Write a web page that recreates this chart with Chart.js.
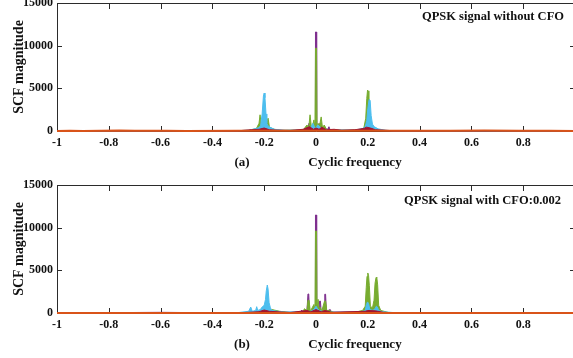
<!DOCTYPE html>
<html>
<head>
<meta charset="utf-8">
<script src="https://cdn.jsdelivr.net/npm/chart.js@4.4.0/dist/chart.umd.min.js"></script>
<style>
  html, body { margin: 0; padding: 0; background: #fff; overflow: hidden; width: 573px; height: 358px; }
  canvas { position: absolute; left: 0; }
  #chartA { top: 0; }
  #chartB { top: 179px; }
</style>
</head>
<body>
<canvas id="chartA" width="580" height="179"></canvas>
<canvas id="chartB" width="580" height="179"></canvas>
<script>
// axis ticks
const xTickValues = [-1, -0.8, -0.6, -0.4, -0.2, 0, 0.2, 0.4, 0.6, 0.8, 1];
const xTickLabels = ["-1", "-0.8", "-0.6", "-0.4", "-0.2", "0", "0.2", "0.4", "0.6", "0.8", ""];
const yTickValues = [0, 5000, 10000, 15000];
const yTickLabels = ["0", "5000", "10000", "15000"];

// --- panel (a): QPSK without CFO ---
const purpleAx = [-1, -0.3, -0.21, -0.2, -0.19, -0.06, -0.032, -0.027, -0.022, -0.008, -0.0025, -0.002, 0.002, 0.0025, 0.008, 0.012, 0.015, 0.018, 0.03, 0.045, 0.05, 0.055, 0.18, 0.195, 0.2, 0.205, 0.3, 1];
const purpleAy = [0, 0, 50, 300, 50, 80, 100, 900, 100, 300, 600, 11600, 11600, 600, 200, 150, 900, 150, 300, 200, 500, 100, 80, 200, 450, 100, 0, 0];

const greenAx = [-1, -0.26, -0.23, -0.22, -0.216, -0.212, -0.205, -0.2, -0.195, -0.188, -0.185, -0.18, -0.17, -0.15, -0.05, -0.035, -0.028, -0.023, -0.018, -0.012, -0.008, -0.004, -0.002, 0.002, 0.004, 0.008, 0.013, 0.02, 0.025, 0.032, 0.04, 0.06, 0.17, 0.185, 0.192, 0.196, 0.199, 0.201, 0.204, 0.208, 0.214, 0.225, 0.25, 1];
const greenAy = [0, 50, 300, 900, 1900, 900, 600, 1100, 700, 1200, 1500, 500, 300, 80, 100, 700, 400, 1900, 500, 800, 1300, 400, 9700, 9700, 400, 900, 500, 1650, 400, 700, 200, 80, 100, 400, 1500, 3800, 4800, 4700, 3000, 1200, 500, 200, 50, 0];

const cyanAx = [-1, -0.3, -0.26, -0.23, -0.222, -0.214, -0.208, -0.203, -0.2, -0.197, -0.193, -0.19, -0.185, -0.175, -0.16, -0.12, -0.04, -0.02, -0.012, -0.006, 0, 0.006, 0.012, 0.02, 0.04, 0.15, 0.18, 0.19, 0.196, 0.2, 0.205, 0.209, 0.213, 0.218, 0.225, 0.24, 0.27, 0.3, 1];
const cyanAy = [0, 40, 100, 300, 400, 600, 2000, 4100, 4450, 3900, 2000, 900, 600, 400, 200, 80, 150, 400, 900, 500, 300, 700, 600, 300, 150, 100, 300, 500, 1200, 2600, 3700, 3600, 1800, 800, 500, 250, 80, 30, 0];

const redAx = [-1, -0.3, -0.25, -0.22, -0.2, -0.18, -0.15, -0.1, -0.05, -0.025, -0.01, 0, 0.012, 0.022, 0.04, 0.07, 0.1, 0.15, 0.185, 0.195, 0.21, 0.23, 0.26, 0.3, 1];
const redAy = [0, 30, 150, 200, 350, 150, 100, 60, 200, 500, 200, 350, 200, 450, 150, 200, 80, 150, 300, 450, 350, 150, 100, 30, 0];

const orangeAx = [-1, -0.95, -0.9, -0.76, -0.7, -0.58, -0.5, -0.3, 0.3, 0.4, 0.52, 0.65, 0.78, 0.9, 1];
const orangeAy = [0, 40, 0, 50, 20, 40, 0, 30, 30, 40, 30, 50, 20, 40, 0];

// --- panel (b): QPSK with CFO 0.002 ---
const purpleBx = [-1, -0.6, -0.3, -0.21, -0.2, -0.19, -0.06, -0.055, -0.05, -0.035, -0.031, -0.028, -0.025, -0.008, -0.0025, -0.002, 0.002, 0.0025, 0.01, 0.014, 0.017, 0.02, 0.031, 0.034, 0.037, 0.04, 0.055, 0.06, 0.19, 0.2, 0.21, 0.235, 0.25, 0.3, 1];
const purpleBy = [0, 80, 0, 100, 300, 100, 100, 350, 100, 200, 2230, 2230, 200, 200, 600, 11480, 11480, 600, 200, 1400, 1400, 200, 200, 2200, 2200, 200, 400, 100, 100, 500, 100, 400, 100, 0, 0];

const greenBx = [-1, -0.25, -0.22, -0.2, -0.192, -0.186, -0.18, -0.17, -0.14, -0.1, -0.05, -0.045, -0.035, -0.031, -0.027, -0.022, -0.015, -0.008, -0.004, -0.002, 0.002, 0.004, 0.008, 0.012, 0.016, 0.022, 0.033, 0.037, 0.042, 0.05, 0.07, 0.15, 0.18, 0.19, 0.194, 0.197, 0.2, 0.203, 0.206, 0.21, 0.218, 0.224, 0.228, 0.232, 0.235, 0.238, 0.242, 0.25, 0.28, 1];
const greenBy = [0, 50, 200, 500, 1300, 900, 300, 400, 200, 50, 100, 500, 300, 1500, 1500, 200, 600, 1000, 300, 9600, 9600, 300, 1600, 500, 700, 200, 1400, 1400, 200, 300, 50, 80, 300, 800, 3000, 4300, 4690, 4400, 3200, 800, 600, 1500, 3500, 4180, 4100, 3300, 900, 300, 60, 0];

const cyanBx = [-1, -0.3, -0.26, -0.252, -0.246, -0.233, -0.229, -0.225, -0.215, -0.208, -0.2, -0.195, -0.192, -0.188, -0.185, -0.181, -0.176, -0.17, -0.15, -0.12, -0.02, -0.008, 0, 0.006, 0.012, 0.03, 0.06, 0.17, 0.19, 0.195, 0.199, 0.203, 0.208, 0.22, 0.228, 0.233, 0.237, 0.242, 0.255, 0.3, 1];
const cyanBy = [0, 50, 200, 700, 200, 300, 740, 300, 400, 700, 900, 1600, 2600, 3280, 2800, 1200, 600, 300, 200, 100, 200, 400, 800, 500, 300, 150, 100, 100, 300, 1000, 1300, 1100, 400, 300, 500, 800, 700, 300, 150, 50, 0];

const redBx = [-1, -0.3, -0.22, -0.2, -0.18, -0.1, -0.035, -0.02, 0, 0.02, 0.035, 0.06, 0.19, 0.2, 0.23, 0.26, 0.3, 1];
const redBy = [0, 20, 150, 350, 200, 50, 300, 150, 400, 150, 300, 80, 200, 300, 250, 80, 20, 0];

const orangeBx = [-1, 1];
const orangeBy = [0, 0];

const COLORS = {
  purple: "#7E2F8E",
  green: "#77AC30",
  cyan: "#4DBEEE",
  red: "#A2142F",
  orange: "#D95319"
};
const FONT = '"Liberation Serif", "Times New Roman", serif';

function pts(xs, ys) {
  return xs.map((x, i) => ({ x: x, y: ys[i] }));
}

function series(xs, ys, color, order, width, noFill) {
  return {
    data: pts(xs, ys),
    borderColor: color,
    backgroundColor: color,
    borderWidth: width || 1,
    fill: noFill ? false : "origin",
    pointRadius: 0,
    tension: 0,
    clip: false,
    order: order
  };
}

// frame box + inward ticks, like the matlab axes
const framePlugin = {
  id: "frame",
  beforeDatasetsDraw(chart) {
    const { ctx, chartArea: a, scales: { x, y } } = chart;
    ctx.save();
    ctx.strokeStyle = "#2b2b2b";
    ctx.lineWidth = 1;
    ctx.beginPath();
    ctx.rect(a.left + 0.5, a.top + 0.5, a.right - a.left, a.bottom - a.top);
    xTickValues.forEach(v => {
      const px = Math.round(x.getPixelForValue(v)) + 0.5;
      ctx.moveTo(px, a.bottom);
      ctx.lineTo(px, a.bottom - 5);
      ctx.moveTo(px, a.top);
      ctx.lineTo(px, a.top + 6);
    });
    yTickValues.forEach(v => {
      const py = Math.round(y.getPixelForValue(v)) + 0.5;
      ctx.moveTo(a.left, py);
      ctx.lineTo(a.left + 5, py);
      ctx.moveTo(a.right, py);
      ctx.lineTo(a.right - 5, py);
    });
    ctx.stroke();
    ctx.restore();
  },
  afterDatasetsDraw(chart, args, opts) {
    const { ctx, chartArea: a } = chart;
    ctx.save();
    ctx.fillStyle = "#111";
    ctx.font = "bold 12.5px " + FONT;
    ctx.textBaseline = "alphabetic";
    ctx.textAlign = "right";
    ctx.fillText(opts.title, opts.titleX, a.top + opts.titleDy);
    ctx.textAlign = "center";
    ctx.font = "bold 13px " + FONT;
    ctx.fillText(opts.caption, 242, a.bottom + 35);
    ctx.fillText("Cyclic frequency", 355, a.bottom + 35);
    ctx.restore();
  }
};

function makeChart(id, datasets, padTop, xHeight, title, titleX, titleDy, caption) {
  return new Chart(document.getElementById(id), {
    type: "line",
    data: { datasets: datasets },
    options: {
      responsive: false,
      animation: false,
      layout: { padding: { top: padTop, right: 5, left: 0, bottom: 0 } },
      plugins: {
        legend: { display: false },
        tooltip: { enabled: false },
        frame: { title: title, titleX: titleX, titleDy: titleDy, caption: caption }
      },
      scales: {
        x: {
          type: "linear",
          min: -1,
          max: 1,
          grid: { display: false, drawTicks: false, tickLength: 0 },
          border: { display: false },
          afterBuildTicks: s => { s.ticks = xTickValues.map(v => ({ value: v })); },
          afterFit: s => { s.height = xHeight; s.paddingLeft = 0; s.paddingRight = 0; },
          ticks: {
            autoSkip: false,
            maxRotation: 0,
            padding: 5,
            color: "#111",
            font: { family: FONT, size: 12, weight: "bold" },
            callback: (v, i) => xTickLabels[i]
          }
        },
        y: {
          min: 0,
          max: 15000,
          grid: { display: false, drawTicks: false, tickLength: 0 },
          border: { display: false },
          afterBuildTicks: s => { s.ticks = yTickValues.map(v => ({ value: v })); },
          afterFit: s => { s.width = 57; s.paddingTop = 0; s.paddingBottom = 0; },
          ticks: {
            padding: 4,
            color: "#111",
            font: { family: FONT, size: 12, weight: "bold" },
            callback: (v, i) => yTickLabels[i]
          },
          title: {
            display: true,
            text: "SCF magnitude",
            color: "#111",
            padding: { top: 11, bottom: 0 },
            font: { family: FONT, size: 14, weight: "bold" }
          }
        }
      }
    },
    plugins: [framePlugin]
  });
}

makeChart("chartA", [
  series(orangeAx, orangeAy, COLORS.orange, 0, 2, true),
  series(redAx, redAy, COLORS.red, 1),
  series(cyanAx, cyanAy, COLORS.cyan, 2),
  series(greenAx, greenAy, COLORS.green, 3),
  series(purpleAx, purpleAy, COLORS.purple, 4)
], 3, 48, "QPSK signal without CFO", 564, 17, "(a)");

makeChart("chartB", [
  series(orangeBx, orangeBy, COLORS.orange, 0, 2, true),
  series(redBx, redBy, COLORS.red, 1),
  series(cyanBx, cyanBy, COLORS.cyan, 2),
  series(greenBx, greenBy, COLORS.green, 3),
  series(purpleBx, purpleBy, COLORS.purple, 4)
], 6, 45, "QPSK signal with CFO:0.002", 561, 19, "(b)");
</script>
</body>
</html>
